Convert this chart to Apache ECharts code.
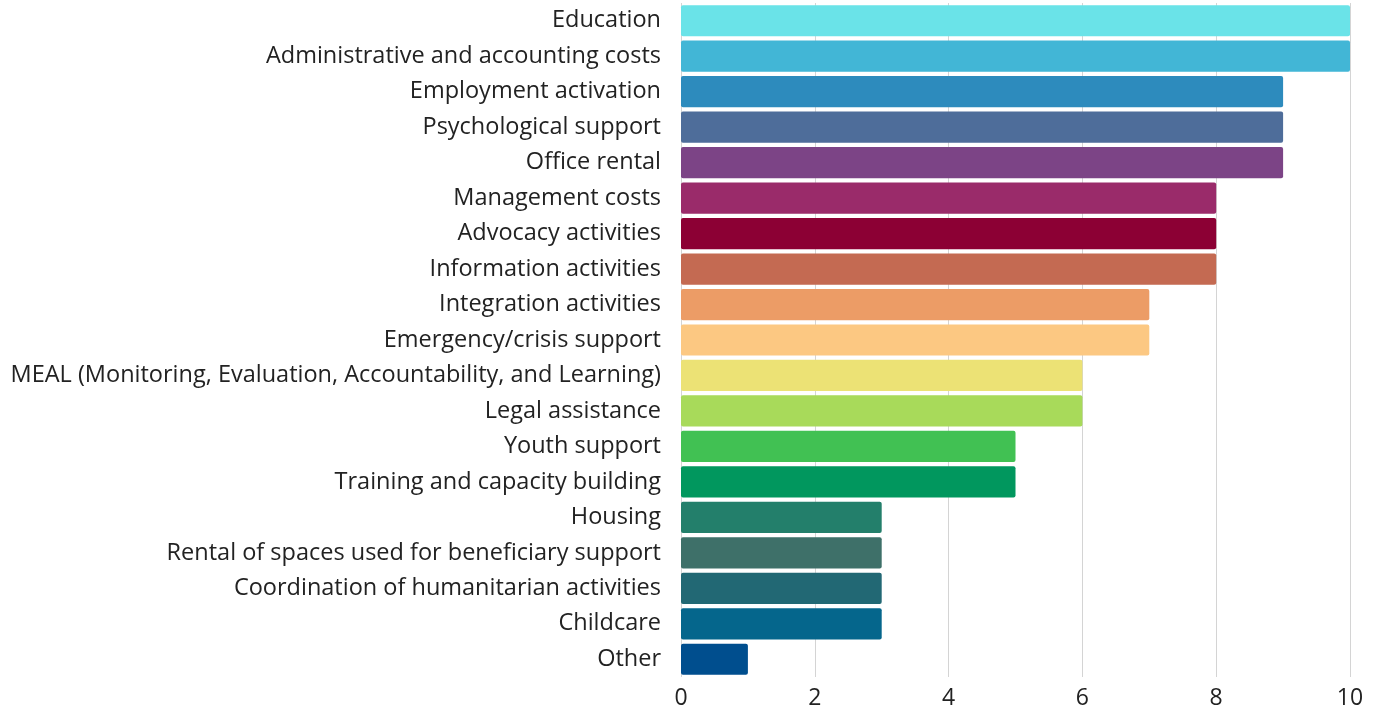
<!DOCTYPE html>
<html><head><meta charset="utf-8">
<script src="https://cdn.jsdelivr.net/npm/echarts@6/dist/echarts.min.js"></script>
<style>html,body{margin:0;padding:0;background:#fff}#c{width:1375px;height:712px}</style>
</head><body><div id="c"></div>
<script>
const categories = ["Education","Administrative and accounting costs","Employment activation","Psychological support","Office rental","Management costs","Advocacy activities","Information activities","Integration activities","Emergency/crisis support","MEAL (Monitoring, Evaluation, Accountability, and Learning)","Legal assistance","Youth support","Training and capacity building","Housing","Rental of spaces used for beneficiary support","Coordination of humanitarian activities","Childcare","Other"];
const values = [10,10,9,9,9,8,8,8,7,7,6,6,5,5,3,3,3,3,1];
const colors = ["#6ae3e8","#42b6d6","#2d8bbd","#4e6d9a","#7c4486","#9a2b6a","#8c0034","#c46a52","#ec9c66","#fcc882","#ece275","#a8da5a","#41c153","#01975e","#237f6b","#3e7069","#226874","#05668c","#004e8e"];
const xTicks = [0,2,4,6,8,10];
const chart = echarts.init(document.getElementById('c'));
chart.setOption({
  animation:false,
  grid:{left:681,right:25,top:3,bottom:35,containLabel:false},
  xAxis:{type:'value',min:0,max:10,interval:2,
    axisLine:{show:false},axisTick:{show:false},
    splitLine:{lineStyle:{color:'#d4d4d4',width:1}},
    axisLabel:{color:'#222',fontSize:23,fontFamily:'Open Sans',margin:10,formatter:v=>xTicks.includes(v)?String(v):''}},
  yAxis:{type:'category',inverse:true,data:categories,
    axisLine:{show:false},axisTick:{show:false},
    axisLabel:{color:'#222',fontSize:23.5,fontFamily:'Open Sans',margin:20}},
  series:[{type:'bar',barCategoryGap:'12%',
    data:values.map((v,i)=>({value:v,itemStyle:{color:colors[i],borderRadius:2}}))}]
});
</script></body></html>
